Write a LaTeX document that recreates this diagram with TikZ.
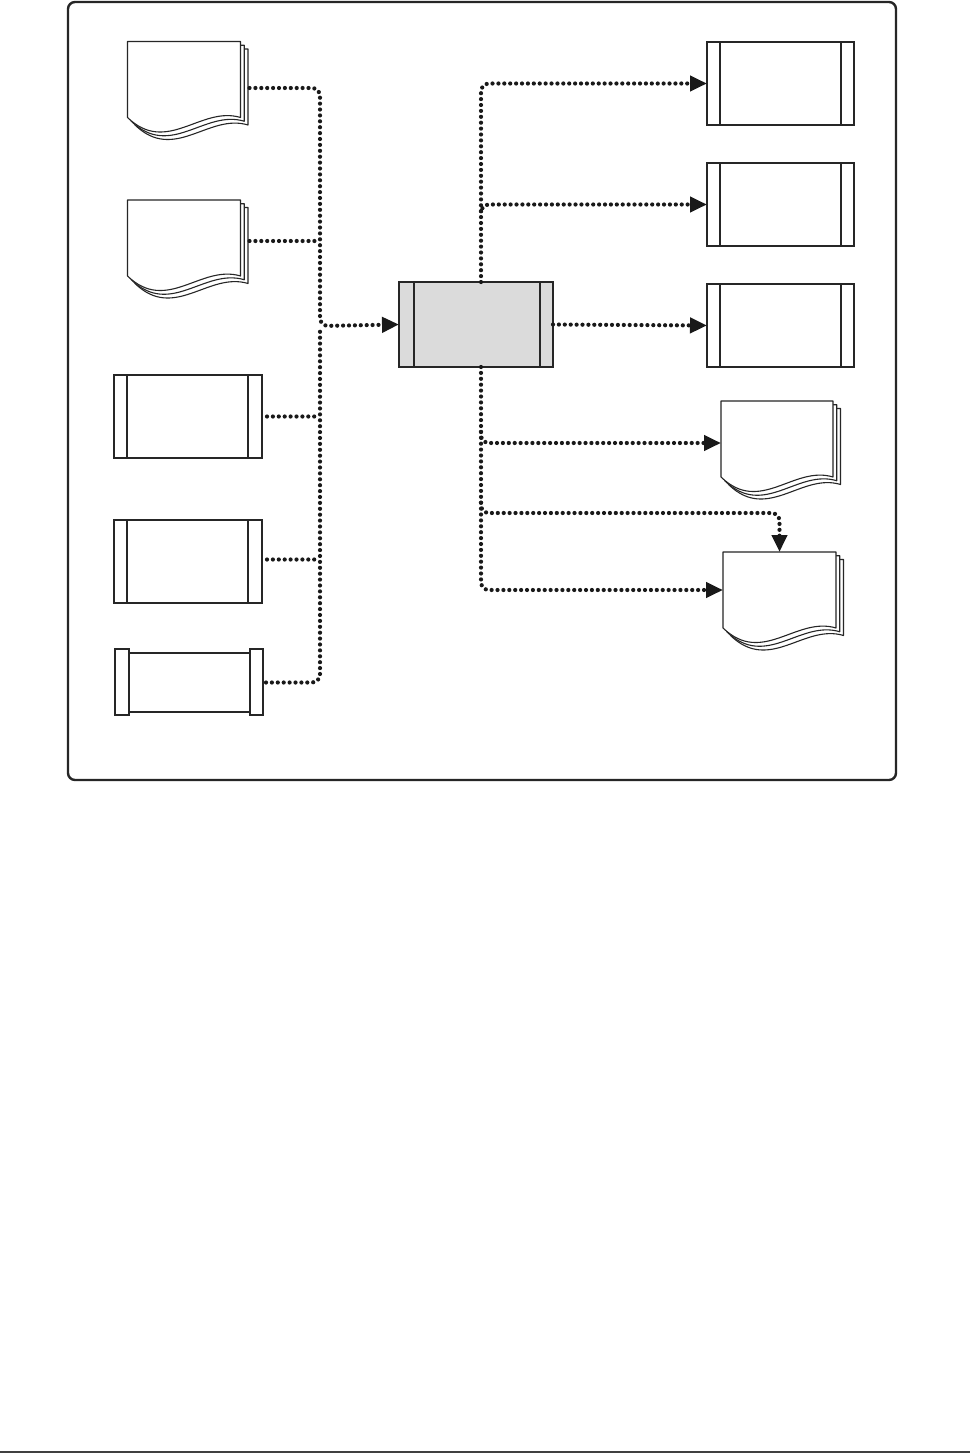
\documentclass[tikz,border=0pt]{standalone}
\usetikzlibrary{calc,arrows.meta}
\tikzset{
  x=1pt, y=-1pt,
  frame/.style={draw=black!85, line width=2.4pt, rounded corners=7pt},
  conn/.style={draw=black!90, line width=4.2pt, dash pattern=on 0pt off 5.9pt, line cap=round, rounded corners=8pt},
  tip/.style={-{Triangle[length=17pt,width=15pt]}},
  procbox/.style={draw=black!85, line width=1.3pt, minimum width=148pt, minimum height=83pt, inner sep=0pt, outer sep=0pt},
  docbox/.style={minimum width=113pt, minimum height=76pt, inner sep=0pt, outer sep=0pt},
  docline/.style={draw=black!85, line width=1.1pt, fill=white, line join=round},
  thinline/.style={draw=black!85, line width=1.1pt},
  thickline/.style={draw=black!85, line width=2.2pt},
}
\newcommand\docstack[1]{%
  \foreach \o in {7.5,3.75,0}{%
    \draw[docline] ($(#1.north west)+(\o,\o)$) -- ($(#1.north east)+(\o,\o)$) -- ($(#1.south east)+(\o,\o)$)
      .. controls ($(#1.south west)!0.65!(#1.south east)+(\o,\o-12)$) and ($(#1.south west)!0.35!(#1.south east)+(\o,\o+38)$) .. ($(#1.south west)+(\o,\o)$) -- cycle;
  }}
\newcommand\leftproc[1]{%
  \draw[thinline] ($(#1.north west)+(13,0)$) -- ($(#1.south west)+(13,0)$);
  \draw[thinline] ($(#1.north east)+(-14,0)$) -- ($(#1.south east)+(-14,0)$);}
\newcommand\rightproc[1]{%
  \draw[thickline] ($(#1.north west)+(13,0)$) rectangle ($(#1.south east)+(-13,0)$);}
\begin{document}
\begin{tikzpicture}
\useasboundingbox (0,0) rectangle (970,1453);
\fill[white] (0,0) rectangle (970,1453);
% outer frame
\draw[frame] (68,2) rectangle (896,780);
% bottom rule
\draw[draw=black!75, line width=1.6pt] (0,1452) -- (970,1452);

% left side documents
\node[docbox] (d1) at (184,79.5) {};
\docstack{d1}
\node[docbox] (d2) at (184,238) {};
\docstack{d2}
% left predefined processes
\node[procbox, line width=2pt] (L3) at (188,416.5) {};
\leftproc{L3}
\node[procbox, line width=2pt] (L4) at (188,561.5) {};
\leftproc{L4}
\node[draw=black!85, line width=2pt, minimum width=121pt, minimum height=59pt, inner sep=0pt, outer sep=0pt] (L5) at (189.5,682.5) {};
\draw[thinline, line width=1.3pt] ($(L5.north west)+(-14,-4)$) rectangle ($(L5.south west)+(0,3)$);
\draw[thinline, line width=1.3pt] ($(L5.north east)+(0,-4)$) rectangle ($(L5.south east)+(13,3)$);

% central process
\node[procbox, fill=black!14, minimum width=154pt, minimum height=85pt] (C) at (476,324.5) {};
\draw[thinline] ($(C.north west)+(15,0)$) -- ($(C.south west)+(15,0)$);
\draw[thinline] ($(C.north east)+(-13,0)$) -- ($(C.south east)+(-13,0)$);
\draw[thickline] (C.north west) -- (C.south west);
\draw[thickline] (C.north east) -- (C.south east);

% right processes
\node[procbox, minimum width=147pt] (R1) at (780.5,83.5) {};
\rightproc{R1}
\node[procbox, minimum width=147pt] (R2) at (780.5,204.5) {};
\rightproc{R2}
\node[procbox, minimum width=147pt] (R3) at (780.5,325.5) {};
\rightproc{R3}
% right documents
\node[docbox, minimum width=112pt] (R4) at (777,439) {};
\docstack{R4}
\node[docbox] (R5) at (779.5,590) {};
\docstack{R5}

% left trunk
\coordinate (tl) at (320,326);
\draw[conn, tip] ($(d1.east)+(9,8.5)$) -| (tl) -- (C.west);
\draw[conn] ($(L5.east)+(16,0)$) -| (tl);
\draw[conn] ($(d2.east)+(9,3)$) -- ($(d2.east -| tl)+(-3,3)$);
\draw[conn] ($(L3.east)+(5,0)$) -- ($(L3.east -| tl)+(-3,0)$);
\draw[conn] ($(L4.east)+(5,-2)$) -- ($(L4.east -| tl)+(-3,-2)$);

% right connectors
\draw[conn, tip] ($(C.north)+(5,0)$) |- (R1.west);
\draw[conn, tip] ($(C.north)+(5,-70.8)$) |- (R2.west);
\draw[conn, tip] (C.east) -- (R3.west);
\draw[conn, tip] ($(C.south)+(5,0)$) |- (R5.west);
\draw[conn, tip] ($(C.south)+(5,64.9)$) |- ($(R4.west)+(0,4)$);
\draw[conn, tip] ($(C.south)+(5,135.7)$) |- ($(R5.north)+(0,-39)$) -- (R5.north);
\end{tikzpicture}
\end{document}
